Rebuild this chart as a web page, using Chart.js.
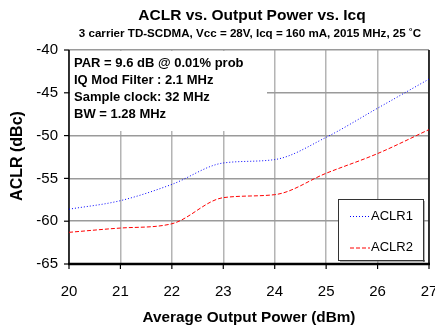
<!DOCTYPE html>
<html><head><meta charset="utf-8">
<script src="https://cdn.jsdelivr.net/npm/chart.js@4/dist/chart.umd.min.js"></script>
<style>html,body{margin:0;padding:0;background:#fff}#wrap{width:435px;height:329px;position:relative}</style>
</head><body><div id="wrap"><canvas id="c" width="435" height="329"></canvas></div>
<script>
const xValues = [20, 21, 22, 23, 24, 25, 26, 27];
const aclr1 = [-58.6, -57.6, -55.7, -53.2, -52.8, -50.2, -46.8, -43.4];
const aclr2 = [-61.3, -60.8, -60.3, -57.25, -56.9, -54.4, -52.1, -49.3];
const xTicks = [20, 21, 22, 23, 24, 25, 26, 27];
const yTicks = [-40, -45, -50, -55, -60, -65];
const seriesNames = ['ACLR1', 'ACLR2'];
const titleText = 'ACLR vs. Output Power vs. Icq';
const subtitleText = '3 carrier TD-SCDMA, Vcc = 28V, Icq = 160 mA, 2015 MHz, 25 \u02daC';
const noteLines = ['PAR = 9.6 dB @ 0.01% prob', 'IQ Mod Filter : 2.1 MHz', 'Sample clock: 32 MHz', 'BW = 1.28 MHz'];
const xTitle = 'Average Output Power (dBm)';
const yTitle = 'ACLR (dBc)';

const FONT = '"Liberation Sans", Arial, sans-serif';

const overlay = {
  id: 'overlay',
  beforeDatasetsDraw(chart) {
    const ctx = chart.ctx, a = chart.chartArea;
    const xs = chart.scales.x, ys = chart.scales.y;
    ctx.save();
    // note box background (hides grid)
    ctx.fillStyle = '#fff';
    ctx.fillRect(a.left + 1, a.top + 1, 197, 80);
    ctx.fillStyle = '#000';
    ctx.font = 'bold 13px ' + FONT;
    ctx.textAlign = 'left'; ctx.textBaseline = 'middle';
    noteLines.forEach((t, i) => ctx.fillText(t, a.left + 5, a.top + 13 + i * 17.3));
    // axes lines
    ctx.strokeStyle = '#000';
    ctx.lineWidth = 1.5;
    ctx.beginPath(); ctx.moveTo(a.left, a.top); ctx.lineTo(a.left, a.bottom); ctx.stroke();
    ctx.beginPath(); ctx.moveTo(a.right, a.top); ctx.lineTo(a.right, a.bottom); ctx.stroke();
    ctx.lineWidth = 2.5;
    ctx.beginPath(); ctx.moveTo(a.left - 1, a.bottom); ctx.lineTo(a.right + 1, a.bottom); ctx.stroke();
    // tick marks and labels
    ctx.lineWidth = 1.2;
    ctx.font = '15px ' + FONT;
    ctx.textAlign = 'center'; ctx.textBaseline = 'middle';
    xTicks.forEach(v => {
      const px = xs.getPixelForValue(v);
      ctx.beginPath(); ctx.moveTo(px, a.bottom); ctx.lineTo(px, a.bottom + 5); ctx.stroke();
      ctx.fillText(String(v), px, a.bottom + 28);
    });
    ctx.textAlign = 'right';
    yTicks.forEach(v => {
      const py = ys.getPixelForValue(v);
      ctx.beginPath(); ctx.moveTo(a.left - 5, py); ctx.lineTo(a.left, py); ctx.stroke();
      ctx.fillText(String(v), a.left - 11, py);
    });
    // titles
    ctx.textAlign = 'center';
    ctx.font = 'bold 15.5px ' + FONT;
    ctx.fillText(titleText, 252, 16);
    ctx.font = 'bold 11.6px ' + FONT;
    ctx.fillText(subtitleText, 250, 34);
    ctx.font = 'bold 15.3px ' + FONT;
    ctx.fillText(xTitle, 249, 318);
    ctx.save();
    ctx.translate(18, 156);
    ctx.rotate(-Math.PI / 2);
    ctx.font = 'bold 16px ' + FONT;
    ctx.fillText(yTitle, 0, 0);
    ctx.restore();
    ctx.restore();
  },
  afterDatasetsDraw(chart) {
    const ctx = chart.ctx;
    ctx.save();
    const bx = 338, by = 199, bw = 85, bh = 61;
    ctx.fillStyle = '#fff';
    ctx.fillRect(bx, by, bw, bh);
    ctx.fillStyle = '#666';
    ctx.fillRect(bx + 2, by + bh, bw, 1.5);
    ctx.fillRect(bx + bw, by + 2, 1.5, bh);
    ctx.strokeStyle = '#333'; ctx.lineWidth = 1;
    ctx.strokeRect(bx + 0.5, by + 0.5, bw, bh);
    chart.data.datasets.forEach((ds, i) => {
      const y = by + 17 + i * 31.5;
      ctx.strokeStyle = ds.borderColor;
      ctx.lineWidth = 1;
      ctx.setLineDash(ds.borderDash);
      ctx.beginPath(); ctx.moveTo(350, y + 0.5); ctx.lineTo(370, y + 0.5); ctx.stroke();
      ctx.setLineDash([]);
      ctx.fillStyle = '#000';
      ctx.font = '13px ' + FONT;
      ctx.textAlign = 'left'; ctx.textBaseline = 'middle';
      ctx.fillText(seriesNames[i], 371, y);
    });
    ctx.restore();
  }
};

new Chart(document.getElementById('c'), {
  type: 'line',
  data: {
    datasets: [
      { label: seriesNames[0], data: xValues.map((x, i) => ({x, y: aclr1[i]})),
        borderColor: '#0000ff', borderWidth: 1, borderDash: [1, 2], pointRadius: 0, tension: 0.4, cubicInterpolationMode: 'monotone', fill: false },
      { label: seriesNames[1], data: xValues.map((x, i) => ({x, y: aclr2[i]})),
        borderColor: '#ff0000', borderWidth: 1, borderDash: [4, 2], pointRadius: 0, tension: 0.4, cubicInterpolationMode: 'monotone', fill: false }
    ]
  },
  options: {
    responsive: false,
    animation: false,
    devicePixelRatio: 1,
    layout: { padding: { left: 69, right: 6, top: 50, bottom: 65 } },
    plugins: { legend: { display: false }, title: { display: false }, tooltip: { enabled: false } },
    scales: {
      x: { type: 'linear', min: 20, max: 27,
        ticks: { display: false, stepSize: 1 },
        border: { display: false },
        grid: { color: '#b4b4b4', lineWidth: 1.5, drawTicks: false },
        afterFit(s) { s.height = 0; } },
      y: { type: 'linear', min: -65, max: -40,
        ticks: { display: false, stepSize: 5 },
        border: { display: false },
        grid: { color: '#9a9a9a', lineWidth: 1.5, drawTicks: false },
        afterFit(s) { s.width = 0; } }
    }
  },
  plugins: [overlay]
});
</script></body></html>
